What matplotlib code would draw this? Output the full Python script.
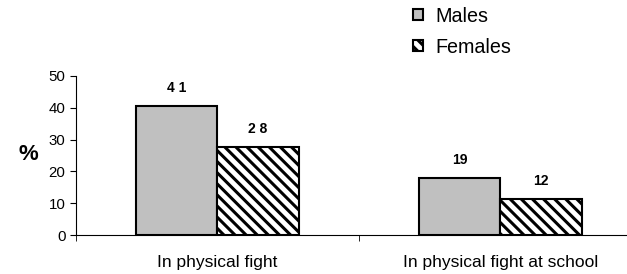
import matplotlib.pyplot as plt
import numpy as np

plt.rcParams['font.family'] = ['Liberation Sans', 'DejaVu Sans']
plt.rcParams['hatch.linewidth'] = 2.2

categories = ["In physical fight", "In physical fight at school"]
males = [40.5, 18.0]
females = [27.6, 11.2]
male_labels = ["4 1", "19"]
female_labels = ["2 8", "12"]
series_names = ["Males", "Females"]

fig = plt.figure(figsize=(6.27, 2.74), dpi=100)
ax = fig.add_axes([0.121, 0.142, 0.879, 0.581])

x = np.arange(len(categories))
w = 0.287
b1 = ax.bar(x - w / 2, males, w, color="#c0c0c0", edgecolor="black", linewidth=1.5,
            label=series_names[0])
b2 = ax.bar(x + w / 2, females, w, color="white", edgecolor="black", linewidth=1.5,
            hatch="\\\\\\", label=series_names[1])

# value labels above bars
for bars, labs in [(b1, male_labels), (b2, female_labels)]:
    for r, t in zip(bars, labs):
        ax.annotate(t, (r.get_x() + r.get_width() / 2, r.get_height()),
                    xytext=(0, 13), textcoords="offset points",
                    ha="center", va="center", fontsize=10, fontweight="bold")

ax.set_ylim(0, 50)
ax.set_yticks(range(0, 51, 10))
ax.set_xlim(-0.5, 1.447)
ax.set_xticks(x)
ax.set_xticklabels(categories, fontsize=12.5)
ax.set_xticks([-0.5, 0.5], minor=True)
ax.tick_params(axis="x", which="major", length=0, pad=14)
ax.tick_params(axis="x", which="minor", length=4, direction="out")
ax.tick_params(axis="y", labelsize=10.8, length=4, direction="out")

for s in ["top", "right"]:
    ax.spines[s].set_visible(False)
ax.spines["left"].set_bounds(0, 50)

fig.text(0.046, 0.435, "%", fontsize=16, fontweight="bold", ha="center", va="center")

fig.legend(handles=[b1, b2], loc="upper left", bbox_to_anchor=(0.659, 0.975),
           frameon=False, fontsize=14.2, borderpad=0, borderaxespad=0,
           handlelength=0.5, handleheight=0.5, handletextpad=0.6, labelspacing=0.6)

fig.savefig("out.png", dpi=100)
